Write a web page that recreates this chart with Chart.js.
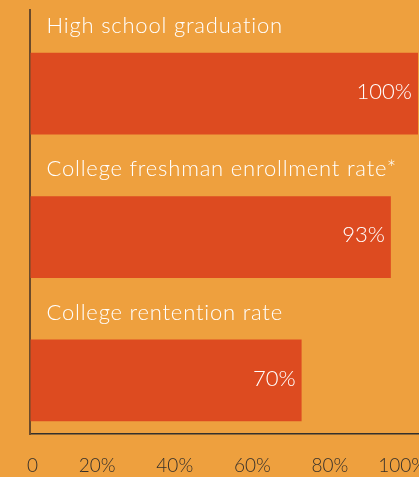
<!DOCTYPE html>
<html>
<head>
<meta charset="utf-8">
<script src="https://cdn.jsdelivr.net/npm/chart.js@4"></script>
<style>
  html, body { margin: 0; padding: 0; background: #EEA03E; }
  #wrap { width: 419px; height: 477px; position: relative; }
</style>
</head>
<body>
<div id="wrap"><canvas id="c"></canvas></div>
<script>
const categories = ["High school graduation", "College freshman enrollment rate*", "College rentention rate"];
const values = [100, 93, 70];
const valueLabels = ["100%", "93%", "70%"];
const tickValues = [0, 20, 40, 60, 80, 100];
const tickLabels = ["0", "20%", "40%", "60%", "80%", "100%"];

const BG = "#EEA03E";
const BAR = "#DD4B20";

const labelsPlugin = {
  id: "barLabels",
  afterDatasetsDraw(chart) {
    const ctx = chart.ctx;
    const meta = chart.getDatasetMeta(0);
    ctx.save();
    ctx.fillStyle = "#FFFFFF";
    meta.data.forEach((bar, i) => {
      const props = bar.getProps(["x", "y", "base", "height"], true);
      const top = props.y - props.height / 2;
      ctx.font = "300 22px Lato";
      ctx.letterSpacing = "0.8px";
      ctx.textAlign = "left";
      ctx.textBaseline = "middle";
      ctx.fillText(categories[i], props.base + 16, top - 27);
      ctx.letterSpacing = "0px";
      ctx.font = "300 22px Lato";
      ctx.textAlign = "right";
      ctx.fillText(valueLabels[i], props.x - 6, props.y - 2);
    });
    ctx.restore();
  }
};

const bgPlugin = {
  id: "bg",
  beforeDraw(chart) {
    const ctx = chart.ctx;
    ctx.save();
    ctx.fillStyle = BG;
    ctx.fillRect(0, 0, chart.width, chart.height);
    ctx.restore();
  }
};

new Chart(document.getElementById("c"), {
  type: "bar",
  data: {
    datasets: [{
      data: values.map((v, i) => ({ x: v, y: i })),
      backgroundColor: BAR,
      borderWidth: 0,
      barPercentage: 0.57,
      categoryPercentage: 1.0
    }]
  },
  options: {
    indexAxis: "y",
    responsive: true,
    maintainAspectRatio: false,
    animation: false,
    layout: { padding: { left: 30, right: 1, top: 10, bottom: 0 } },
    plugins: { legend: { display: false }, tooltip: { enabled: false } },
    scales: {
      x: {
        type: "linear",
        min: 0,
        max: 100,
        afterBuildTicks(scale) { scale.ticks = tickValues.map(v => ({ value: v })); },
        grid: { display: true, drawOnChartArea: false, drawTicks: true, tickLength: 20, color: "rgba(0,0,0,0)" },
        border: { display: true, color: "#33302c", width: 1.5 },
        ticks: {
          align: "end",
          labelOffset: 8,
          padding: 0,
          color: "#35302b",
          font: { family: "Lato", size: 19, weight: "300" },
          callback: (v) => tickLabels[tickValues.indexOf(v)]
        }
      },
      y: {
        type: "linear",
        reverse: true,
        offset: false,
        min: -0.583,
        max: 2.375,
        afterBuildTicks(scale) { scale.ticks = categories.map((c, i) => ({ value: i })); },
        grid: { display: false, drawTicks: false, offset: false },
        border: { display: true, color: "#6b4a2a", width: 2 },
        ticks: { display: false }
      }
    }
  },
  plugins: [bgPlugin, labelsPlugin]
});
</script>
</body>
</html>
